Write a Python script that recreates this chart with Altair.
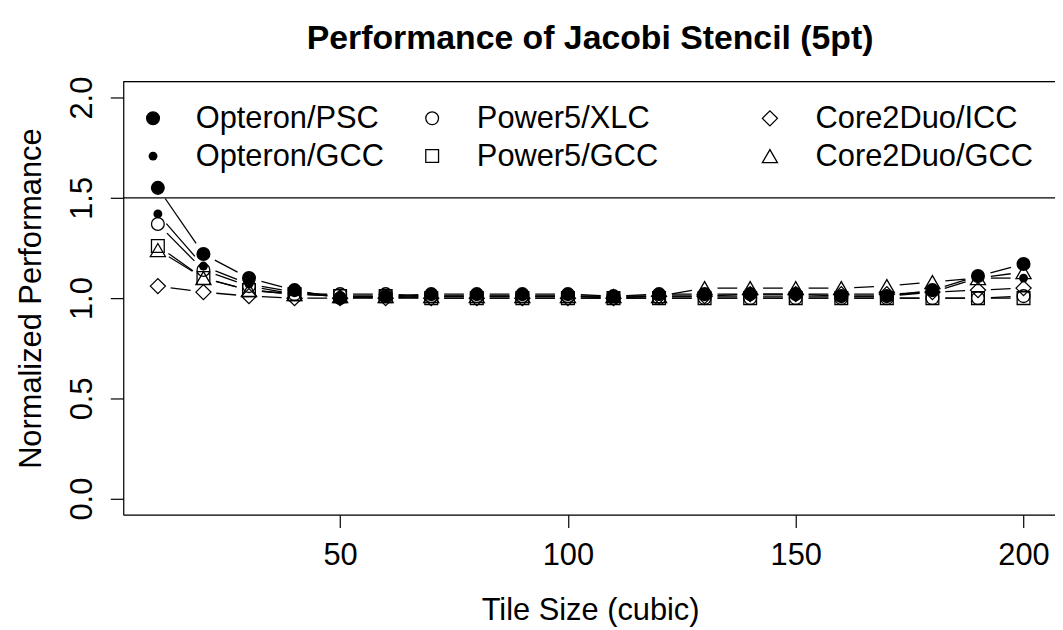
import altair as alt
import pandas as pd

# ---------------- data ----------------
tile_size = [10, 20, 30, 40, 50, 60, 70, 80, 90, 100,
             110, 120, 130, 140, 150, 160, 170, 180, 190, 200]

opteron_psc  = [1.55, 1.22, 1.10, 1.04, 1.00, 1.01, 1.02, 1.02, 1.02, 1.02,
                1.01, 1.02, 1.02, 1.02, 1.02, 1.01, 1.01, 1.04, 1.11, 1.17]
opteron_gcc  = [1.42, 1.16, 1.07, 1.03, 1.01, 1.00, 1.01, 1.01, 1.01, 1.01,
                1.01, 1.01, 1.01, 1.01, 1.01, 1.01, 1.01, 1.03, 1.10, 1.10]
power5_xlc   = [1.37, 1.14, 1.06, 1.02, 1.02, 1.02, 1.01, 1.01, 1.01, 1.01,
                1.00, 1.00, 1.00, 1.00, 1.00, 1.00, 1.00, 1.00, 1.00, 1.01]
power5_gcc   = [1.26, 1.10, 1.04, 1.02, 1.01, 1.01, 1.00, 1.00, 1.00, 1.00,
                1.00, 1.00, 1.00, 1.00, 1.00, 1.00, 1.00, 1.00, 1.00, 1.00]
core2_icc    = [1.06, 1.03, 1.01, 1.00, 1.00, 1.00, 1.00, 1.00, 1.00, 1.00,
                1.00, 1.01, 1.01, 1.02, 1.02, 1.02, 1.02, 1.03, 1.04, 1.05]
core2_gcc    = [1.24, 1.10, 1.04, 1.02, 1.01, 1.01, 1.01, 1.01, 1.01, 1.01,
                1.01, 1.01, 1.05, 1.05, 1.05, 1.05, 1.06, 1.08, 1.10, 1.13]

series_names = ["Opteron/PSC", "Opteron/GCC", "Power5/XLC",
                "Power5/GCC", "Core2Duo/ICC", "Core2Duo/GCC"]
series_values = [opteron_psc, opteron_gcc, power5_xlc,
                 power5_gcc, core2_icc, core2_gcc]

reference_line = 1.5
x_ticks = [50, 100, 150, 200]
y_ticks = [0.0, 0.5, 1.0, 1.5, 2.0]

title_text = "Performance of Jacobi Stencil (5pt)"
x_title = "Tile Size (cubic)"
y_title = "Normalized Performance"

# ---------------- styles ----------------
FONT = "Liberation Sans"
FS = 31
marker_shape = ["circle", "circle", "circle", "square", "diamond", "triangle-up"]
marker_filled = [True, True, False, False, False, False]
marker_size = [200, 80, 165, 165, 230, 230]

W, H = 938, 436
X_DOMAIN = [2.4, 2.4 + W / 4.5867]
Y_DOMAIN = [-0.08, 2.08]
SX = W / (X_DOMAIN[1] - X_DOMAIN[0])
SY = H / (Y_DOMAIN[1] - Y_DOMAIN[0])
GAP = 13  # px gap around points (R type="b")

rows = []
for k, (name, vals) in enumerate(zip(series_names, series_values)):
    for i, (x, y) in enumerate(zip(tile_size, vals)):
        nxt = i + 1 < len(tile_size)
        rows.append(dict(series=name, x=x, y=y,
                         x_next=tile_size[i + 1] if nxt else None,
                         y_next=vals[i + 1] if nxt else None,
                         mshape=marker_shape[k], msize=marker_size[k],
                         filled=marker_filled[k]))
df = pd.DataFrame(rows)

xscale = alt.Scale(domain=X_DOMAIN, nice=False, zero=False)
yscale = alt.Scale(domain=Y_DOMAIN, nice=False, zero=False)

x_axis = alt.Axis(values=x_ticks, grid=False, domainColor="black", domainWidth=1.2,
                  tickColor="black", tickWidth=1.2, tickSize=13,
                  labelFont=FONT, labelFontSize=FS, labelColor="black",
                  labelBaseline="alphabetic", labelPadding=37, labelFlush=False,
                  title=x_title, titleFont=FONT, titleFontSize=FS, titleFontWeight="normal",
                  titleColor="black", titleX=W / 2 + 1, titleY=106, titleAlign="center",
                  titleBaseline="alphabetic")
y_axis = alt.Axis(values=y_ticks, format=".1f", grid=False, domainColor="black", domainWidth=1.2,
                  tickColor="black", tickWidth=1.2, tickSize=13,
                  labelFont=FONT, labelFontSize=FS, labelColor="black",
                  labelAngle=270, labelAlign="center", labelBaseline="alphabetic",
                  labelPadding=19, labelFlush=False,
                  title=y_title, titleFont=FONT, titleFontSize=FS, titleFontWeight="normal",
                  titleColor="black", titleAngle=270, titleX=-83, titleY=H / 2,
                  titleAlign="center", titleBaseline="alphabetic")

base = alt.Chart(df)

segments = base.transform_filter("isValid(datum.x_next)").transform_calculate(
    dxp=f"(datum.x_next - datum.x) * {SX}",
    dyp=f"(datum.y_next - datum.y) * {SY}",
).transform_calculate(
    L="sqrt(datum.dxp * datum.dxp + datum.dyp * datum.dyp)"
).transform_filter(f"datum.L > {2 * GAP}").transform_calculate(
    f=f"{GAP} / datum.L"
).transform_calculate(
    xs="datum.x + (datum.x_next - datum.x) * datum.f",
    xe="datum.x_next - (datum.x_next - datum.x) * datum.f",
    ys="datum.y + (datum.y_next - datum.y) * datum.f",
    ye="datum.y_next - (datum.y_next - datum.y) * datum.f",
).mark_rule(color="black", strokeWidth=1.3).encode(
    x=alt.X("xs:Q", scale=xscale, axis=x_axis),
    x2="xe:Q",
    y=alt.Y("ys:Q", scale=yscale, axis=y_axis),
    y2="ye:Q",
)

filled_pts = base.transform_filter("datum.filled").mark_point(
    filled=True, color="black", opacity=1).encode(
    x=alt.X("x:Q", scale=xscale, axis=x_axis),
    y=alt.Y("y:Q", scale=yscale, axis=y_axis),
    shape=alt.Shape("mshape:N", scale=None),
    size=alt.Size("msize:Q", scale=None),
)
open_pts = base.transform_filter("!datum.filled").mark_point(
    filled=False, color="black", opacity=1, strokeWidth=1.3).encode(
    x=alt.X("x:Q", scale=xscale, axis=x_axis),
    y=alt.Y("y:Q", scale=yscale, axis=y_axis),
    shape=alt.Shape("mshape:N", scale=None),
    size=alt.Size("msize:Q", scale=None),
)

ref = alt.Chart(pd.DataFrame({"y": [reference_line]})).mark_rule(
    color="black", strokeWidth=1.3).encode(y=alt.Y("y:Q", scale=yscale, axis=y_axis))

# legend (custom, 3 columns x 2 rows)
legend_box_top = alt.Chart(pd.DataFrame({"a": [0]})).mark_rule(
    color="black", strokeWidth=1.3).encode(
    x=alt.value(0), x2=alt.value(W), y=alt.value(0))

col_sym_x = [30, 311, 651]
col_txt_x = [73, 356, 697]
row_y = [37, 75]
legend_layers = []
for k, name in enumerate(series_names):
    c, r = k // 2, k % 2
    d = pd.DataFrame({"name": [name]})
    legend_layers.append(alt.Chart(d).mark_point(
        shape=marker_shape[k], size=marker_size[k], filled=marker_filled[k],
        color="black", opacity=1, strokeWidth=1.3).encode(
        x=alt.value(col_sym_x[c]), y=alt.value(row_y[r])))
    legend_layers.append(alt.Chart(d).mark_text(
        font=FONT, fontSize=FS, align="left", baseline="middle", color="black").encode(
        x=alt.value(col_txt_x[c]), y=alt.value(row_y[r] + 1), text="name:N"))

title = alt.Chart(pd.DataFrame({"t": [title_text]})).mark_text(
    font=FONT, fontSize=34, fontWeight="bold", align="center",
    baseline="alphabetic", color="black").encode(
    x=alt.value(W / 2 + 1), y=alt.value(-33), text="t:N")

chart = alt.layer(ref, legend_box_top, segments, filled_pts, open_pts,
                  *legend_layers, title).properties(
    width=W, height=H,
    autosize=alt.AutoSizeParams(type="none"),
    padding={"left": 116, "top": 72, "right": 0, "bottom": 114},
).configure_view(stroke=None).configure(background="white")

chart.save("out.html", embed_options={"renderer": "svg", "actions": False})
